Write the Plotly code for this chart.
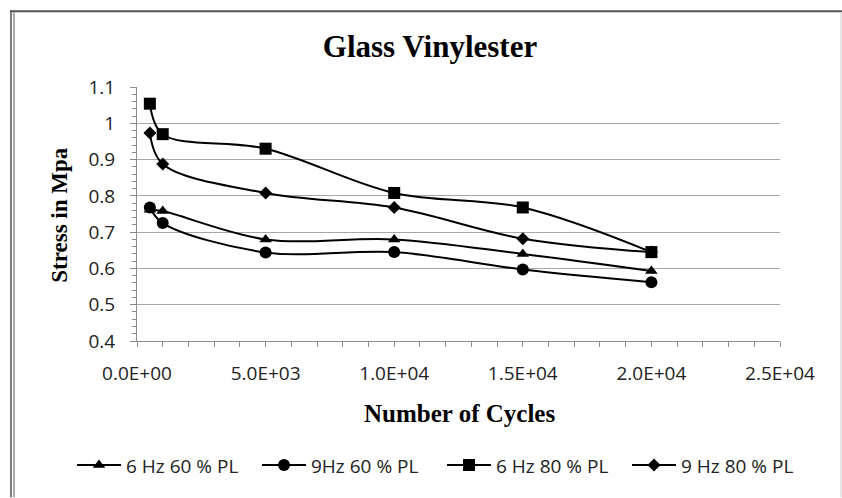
import plotly.graph_objects as go

# ---- data ----
cycles = [500, 1000, 5000, 10000, 15000, 20000]
s_6hz_60 = [0.762, 0.758, 0.680, 0.680, 0.640, 0.593]
s_9hz_60 = [0.768, 0.725, 0.644, 0.645, 0.597, 0.562]
s_6hz_80 = [1.054, 0.970, 0.930, 0.808, 0.768, 0.645]
s_9hz_80 = [0.973, 0.888, 0.808, 0.768, 0.682, 0.645]
series_names = ["6 Hz 60 % PL", "9Hz 60 % PL", "6 Hz 80 % PL", "9 Hz 80 % PL"]
x_tick_vals = [0, 5000, 10000, 15000, 20000, 25000]
x_tick_labels = ["0.0E+00", "5.0E+03", "1.0E+04", "1.5E+04", "2.0E+04", "2.5E+04"]

W, H = 842, 498
L, R, T, B = 137, 62, 87, 156.5
pw, ph = W - L - R, H - T - B

def px_x(px):
    return (px - L) / pw

def px_y(py):
    return (H - B - py) / ph

fig = go.Figure()
specs = [
    (s_6hz_60, "triangle-up", 11),
    (s_9hz_60, "circle", 12),
    (s_6hz_80, "square", 12),
    (s_9hz_80, "diamond", 10),
]
for (vals, sym, sz), name in zip(specs, series_names):
    fig.add_trace(go.Scatter(
        x=cycles, y=vals, name=name, mode="lines+markers",
        line=dict(color="black", width=2, shape="spline", smoothing=1),
        marker=dict(symbol=sym, size=sz, color="black"),
    ))

tick_font = dict(family="Open Sans", size=19, color="#222")
fig.update_layout(
    width=W, height=H,
    margin=dict(l=L, r=R, t=T, b=B, autoexpand=False),
    paper_bgcolor="white", plot_bgcolor="white",
    showlegend=True,
    title=dict(text="<b>Glass Vinylester</b>", x=430 / W, xanchor="center",
               y=(H - 46) / H, yanchor="middle",
               font=dict(family="Liberation Serif", size=31, color="black")),
    legend=dict(orientation="h", x=px_x(72), xanchor="left", y=px_y(466), yanchor="middle",
                font=dict(family="Open Sans", size=19, color="#222"),
                itemwidth=44, entrywidth=126, entrywidthmode="pixels",
                traceorder="normal", tracegroupgap=0),
    xaxis=dict(range=[0, 25000], tickvals=x_tick_vals, ticktext=x_tick_labels,
               showgrid=False, zeroline=False, showline=True, linecolor="#8c8c8c", linewidth=1,
               ticks="outside", ticklen=5, tickcolor="#8c8c8c",
               minor=dict(dtick=1000, ticks="outside", ticklen=5, tickcolor="#8c8c8c", showgrid=False),
               tickfont=tick_font, ticklabelstandoff=10),
    yaxis=dict(range=[0.4, 1.1], dtick=0.1, tick0=0.4,
               showgrid=True, gridcolor="#a6a6a6", gridwidth=1, zeroline=False,
               showline=True, linecolor="#8c8c8c", linewidth=1,
               ticks="outside", ticklen=6, tickcolor="#8c8c8c",
               minor=dict(dtick=0.02, ticks="outside", ticklen=4, tickcolor="#8c8c8c", showgrid=False),
               tickfont=tick_font, ticklabelstandoff=11),
)

# axis titles
fig.add_annotation(text="<b>Number of Cycles</b>", xref="paper", yref="paper",
                   x=px_x(459), y=px_y(414), xanchor="center", yanchor="middle", showarrow=False,
                   font=dict(family="Liberation Serif", size=25, color="black"))
fig.add_annotation(text="<b>Stress in Mpa</b>", xref="paper", yref="paper",
                   x=px_x(60), y=px_y(215), xanchor="center", yanchor="middle", showarrow=False,
                   textangle=-90,
                   font=dict(family="Liberation Serif", size=23, color="black"))

# outer frame
fig.add_shape(type="line", xref="paper", yref="paper", x0=px_x(10), x1=px_x(842), y0=px_y(11), y1=px_y(11),
              line=dict(color="#555", width=2))
fig.add_shape(type="line", xref="paper", yref="paper", x0=px_x(11), x1=px_x(11), y0=px_y(10), y1=px_y(498),
              line=dict(color="#555", width=1.5))
fig.add_shape(type="line", xref="paper", yref="paper", x0=px_x(14), x1=px_x(14), y0=px_y(12), y1=px_y(498),
              line=dict(color="#aaa", width=2))
fig.add_shape(type="line", xref="paper", yref="paper", x0=px_x(841), x1=px_x(841), y0=px_y(12), y1=px_y(498),
              line=dict(color="#ddd", width=1.5))

fig.write_html("out.html")
